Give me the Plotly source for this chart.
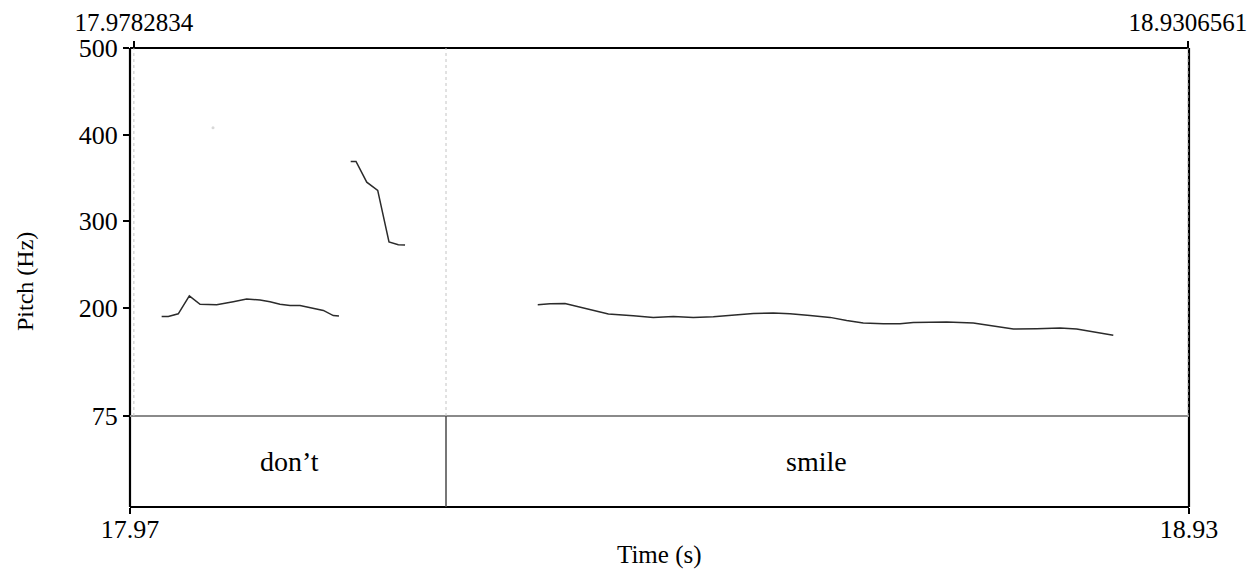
import plotly.graph_objects as go

# Pitch contour (Hz) over time (s), split into voiced stretches
seg1_t = [18.0034, 18.0094, 18.0184, 18.0284, 18.0381, 18.0531, 18.0681, 18.0802,
          18.0923, 18.1013, 18.1103, 18.1194, 18.1284, 18.1404, 18.1495, 18.1585, 18.1636]
seg1_f = [190, 190, 193, 213.8, 204, 203.4, 207, 210,
          209, 207, 204, 202.7, 202.7, 199.6, 196.9, 191, 190.4]

seg2_t = [18.1742, 18.1790, 18.1887, 18.1986, 18.2088, 18.2172, 18.2233]
seg2_f = [369, 369, 345, 335.6, 276, 272.8, 272.4]

seg3_t = [18.3432, 18.3543, 18.3678, 18.3874, 18.4070, 18.4295, 18.4476, 18.4657,
          18.4837, 18.5018, 18.5199, 18.5380, 18.5560, 18.5711, 18.5892, 18.6073,
          18.6223, 18.6373, 18.6554, 18.6705, 18.6825, 18.7127, 18.7367, 18.7518,
          18.7729, 18.7940, 18.8151, 18.8301, 18.8451, 18.8542, 18.8632]
seg3_f = [203.4, 204.6, 204.9, 198.9, 192.7, 190.8, 188.9, 190,
          188.9, 189.7, 191.6, 193.5, 193.9, 193.1, 191.2, 188.9,
          185.4, 182.4, 181.6, 181.6, 183.1, 183.6, 182.4, 179.3,
          175.5, 175.9, 176.7, 175.5, 172.4, 170.9, 168.2]

# Isolated pitch frame
spot_t = [18.0498]
spot_f = [408]

# Word tier
tier_bounds = [17.9782834, 18.2603, 18.9306561]
tier_words = ["don\u2019t", "smile"]

# Axis settings
time_range = [17.9748, 18.9316]
time_labels = ["17.97", "18.93"]
top_labels = ["17.9782834", "18.9306561"]
pitch_range = [75, 500]
pitch_ticks = [75, 200, 300, 400, 500]

FONT = "Liberation Serif"
FS = 26
TIER_FRAC = 91 / 459  # height share of the text tier below the pitch panel
PLOT_W, PLOT_H = 1059, 459

fig = go.Figure()
for t, f in [(seg1_t, seg1_f), (seg2_t, seg2_f), (seg3_t, seg3_f)]:
    fig.add_trace(go.Scatter(x=t, y=f, mode="lines",
                             line=dict(color="#2b2b2b", width=1.5),
                             showlegend=False, hoverinfo="skip"))
fig.add_trace(go.Scatter(x=spot_t, y=spot_f, mode="markers",
                         marker=dict(color="#d8d8d8", size=3),
                         showlegend=False, hoverinfo="skip"))
# invisible trace to activate the top axis
fig.add_trace(go.Scatter(x=time_range, y=pitch_range, xaxis="x2", mode="markers",
                         marker=dict(opacity=0), showlegend=False, hoverinfo="skip"))

shapes = []
# outer frame
for x0, y0, x1, y1, w in [(0, 0, 0, 1, 2.2), (1, 0, 1, 1, 2.2),
                          (0, 1, 1, 1, 1.8), (0, 0, 1, 0, 1.8)]:
    shapes.append(dict(type="line", xref="paper", yref="paper",
                       x0=x0, y0=y0, x1=x1, y1=y1,
                       line=dict(color="black", width=w)))
# line separating the pitch panel from the tier
shapes.append(dict(type="line", xref="paper", yref="paper",
                   x0=0, x1=1, y0=TIER_FRAC, y1=TIER_FRAC,
                   line=dict(color="#8a8a8a", width=2)))
# interval boundaries: dotted through the pitch panel, solid in the tier
for i, b in enumerate(tier_bounds):
    shapes.append(dict(type="line", xref="x", yref="paper",
                       x0=b, x1=b, y0=TIER_FRAC, y1=1,
                       line=dict(color="#c4c4c4", width=1, dash="dot")))
    if 0 < i < len(tier_bounds) - 1:
        shapes.append(dict(type="line", xref="x", yref="paper",
                           x0=b, x1=b, y0=0, y1=TIER_FRAC,
                           line=dict(color="#4a4a4a", width=1.5)))

annotations = []
for i, w in enumerate(tier_words):
    mid = (tier_bounds[i] + tier_bounds[i + 1]) / 2
    annotations.append(dict(x=mid, y=TIER_FRAC / 2, xref="x", yref="paper",
                            xanchor="center", yanchor="middle",
                            text=w, showarrow=False,
                            font=dict(family=FONT, size=28, color="black")))
annotations.append(dict(x=-105 / PLOT_W, y=(507 - 282) / PLOT_H,
                        xref="paper", yref="paper",
                        xanchor="center", yanchor="middle",
                        text="Pitch (Hz)", textangle=-90, showarrow=False,
                        font=dict(family=FONT, size=24, color="black")))
annotations.append(dict(x=0.5, y=-(555 - 507) / PLOT_H,
                        xref="paper", yref="paper",
                        xanchor="center", yanchor="middle",
                        text="Time (s)", showarrow=False,
                        font=dict(family=FONT, size=25, color="black")))

axis_common = dict(ticks="outside", ticklen=6, tickwidth=1.5, tickcolor="black",
                   showgrid=False, zeroline=False, showline=False,
                   automargin=False)

fig.update_layout(
    width=1259, height=569,
    margin=dict(l=130, r=70, t=48, b=62),
    paper_bgcolor="white", plot_bgcolor="white",
    font=dict(family=FONT, size=FS, color="black"),
    xaxis=dict(range=time_range, tickvals=time_range, ticktext=time_labels,
               ticklabelstandoff=-7, anchor="free", position=0,
               tickfont=dict(family=FONT, size=FS), **axis_common),
    xaxis2=dict(range=time_range, overlaying="x", side="top",
                tickvals=tier_bounds[::len(tier_bounds) - 1], ticktext=top_labels,
                ticklabelstandoff=0, anchor="y",
                tickfont=dict(family=FONT, size=25), **axis_common),
    yaxis=dict(range=pitch_range, domain=[TIER_FRAC, 1], tickvals=pitch_ticks,
               tickfont=dict(family=FONT, size=FS), **axis_common),
    shapes=shapes, annotations=annotations,
)

fig.write_html("out.html")
